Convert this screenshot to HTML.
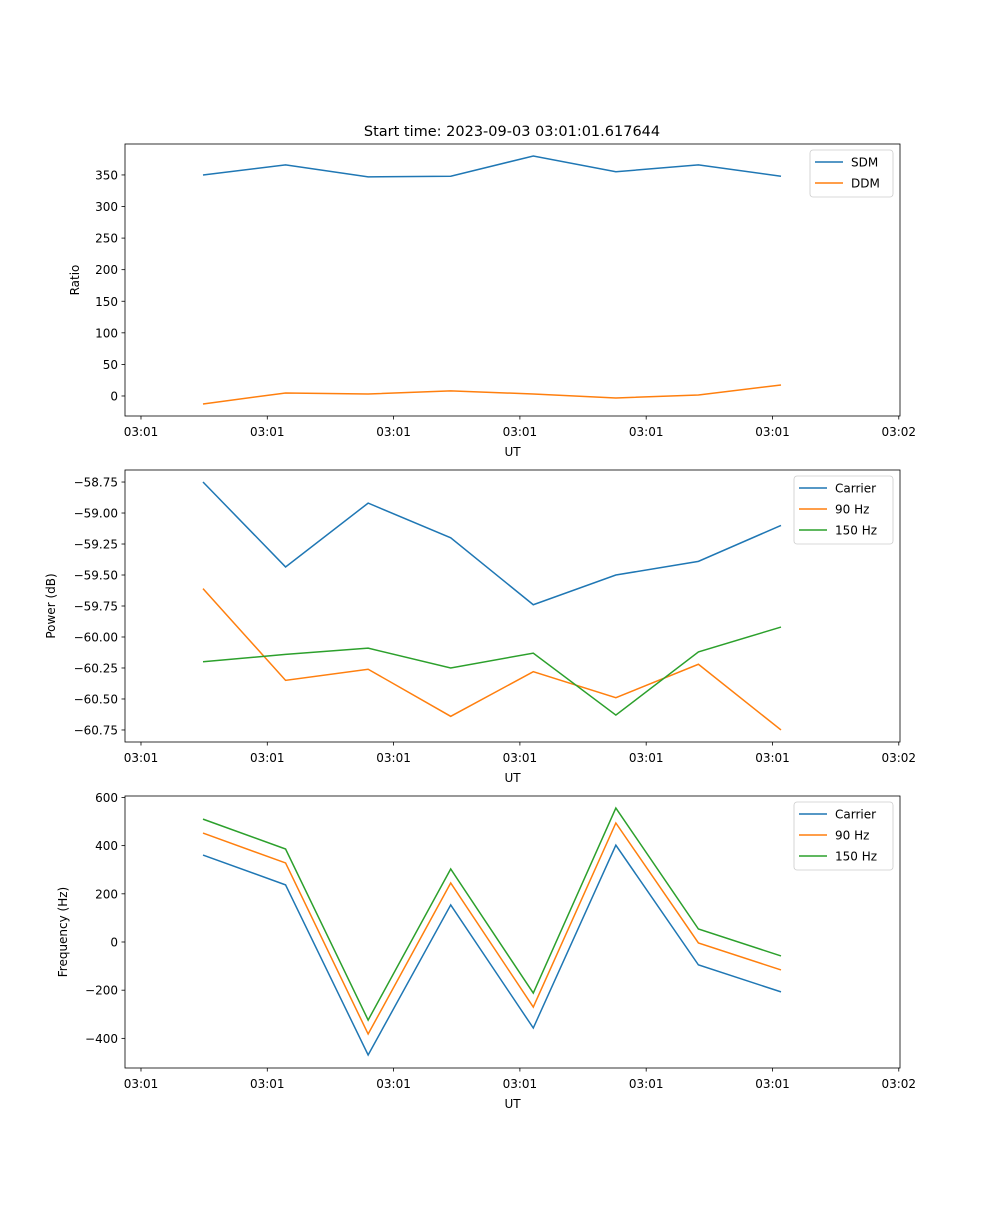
<!DOCTYPE html>
<html><head><meta charset="utf-8"><style>
body{margin:0;background:#fff;}
svg text{font-family:"DejaVu Sans","Liberation Sans",sans-serif;font-size:12px;fill:#000;}
</style></head><body>
<svg id="fig" width="1000" height="1200" xmlns="http://www.w3.org/2000/svg">
<rect width="1000" height="1200" fill="#fff"/>
<text x="512" y="136" text-anchor="middle" style="font-size:14.5px">Start time: 2023-09-03 03:01:01.617644</text>
</svg>
<script>
const pointIndex = [0,1,2,3,4,5,6,7];
const xTickLabels = ["03:01","03:01","03:01","03:01","03:01","03:01","03:02"];
const sdm = [350,366,347,348,380,355,366,348];
const ddm = [-12.7,4.8,3.2,8,3.2,-3.2,1.6,17.4];
const powCarrier = [-58.75,-59.435,-58.92,-59.20,-59.74,-59.50,-59.39,-59.10];
const pow90 = [-59.61,-60.35,-60.26,-60.64,-60.28,-60.49,-60.22,-60.75];
const pow150 = [-60.20,-60.14,-60.09,-60.25,-60.13,-60.63,-60.12,-59.92];
const freqCarrier = [361,237,-469,154,-357,402,-95,-207];
const freq90 = [452,328,-382,245,-270,494,-4,-116];
const freq150 = [510,386,-324,303,-212,556,54,-58];
const ratioTicks = [0,50,100,150,200,250,300,350];
const powerTicks = [-58.75,-59.00,-59.25,-59.50,-59.75,-60.00,-60.25,-60.50,-60.75];
const freqTicks = [-400,-200,0,200,400,600];

const NS="http://www.w3.org/2000/svg";
const svg=document.getElementById('fig');
function mk(tag,attrs,parent){const e=document.createElementNS(NS,tag);for(const k in attrs)e.setAttribute(k,attrs[k]);(parent||svg).appendChild(e);return e;}
const X0=125,X1=900;
const xs=v=>203+v*82.57;
const tickStart=-0.751, tickStep=1.5296;
const colors=["#1f77b4","#ff7f0e","#2ca02c"];
function fmt(v,dec){const s=Math.abs(v).toFixed(dec);return (v<0?"\u2212":"")+s;}
function panel(name,top,bottom,ymin,ymax,ticks,dec,series,labels,ylabel,legend){
  const g=mk('g',{},svg);
  
  
  const ys=v=>bottom-(v-ymin)/(ymax-ymin)*(bottom-top);
  series.forEach((s,i)=>{
    const p=mk('polyline',{points:s.map((v,j)=>xs(pointIndex[j])+','+ys(v)).join(' '),fill:'none',stroke:colors[i],'stroke-width':1.5},g);
    
    
  });
  mk('rect',{x:X0,y:top,width:X1-X0,height:bottom-top,fill:'none',stroke:'#000','stroke-width':0.8},g);
  xTickLabels.forEach((l,k)=>{
    const x=xs(tickStart+k*tickStep);
    mk('line',{x1:x,x2:x,y1:bottom,y2:bottom+3.5,stroke:'#000','stroke-width':0.8},g);
    const t=mk('text',{x:x,y:bottom+20,'text-anchor':'middle'},g);t.textContent=l;
    
    
  });
  const xl=mk('text',{x:(X0+X1)/2,y:bottom+40,'text-anchor':'middle'},g);xl.textContent='UT';
  
  
  ticks.forEach(v=>{
    const y=ys(v);
    mk('line',{x1:X0-3.5,x2:X0,y1:y,y2:y,stroke:'#000','stroke-width':0.8},g);
    const t=mk('text',{x:X0-7,y:y+4.5,'text-anchor':'end'},g);t.textContent=fmt(v,dec);
    
    
  });
  const yl=mk('text',{x:0,y:0,'text-anchor':'middle',transform:`translate(${legend.yx},${(top+bottom)/2}) rotate(-90)`},g);yl.textContent=ylabel;
  
  
  const lg=mk('g',{},g);
  
  
  mk('rect',{x:legend.x,y:top+6,width:X1-7-legend.x,height:labels.length*21+5,rx:3,fill:'#fff',stroke:'#ccc','stroke-width':0.8},lg);
  labels.forEach((l,i)=>{
    const y=top+18+i*21;
    mk('line',{x1:legend.x+5,x2:legend.x+33,y1:y,y2:y,stroke:colors[i],'stroke-width':1.5},lg);
    const t=mk('text',{x:legend.x+41,y:y+4.5},lg);t.textContent=l;
    
    
  });
}
panel('ratio',144,416,-31.7,399,ratioTicks,0,[sdm,ddm],['SDM','DDM'],'Ratio',{x:810,yx:79});
panel('power',470,742,-60.847,-58.653,powerTicks,2,[powCarrier,pow90,pow150],['Carrier','90 Hz','150 Hz'],'Power (dB)',{x:794,yx:55});
panel('frequency',796,1068,-523,606,freqTicks,0,[freqCarrier,freq90,freq150],['Carrier','90 Hz','150 Hz'],'Frequency (Hz)',{x:794,yx:67});
</script>
</body></html>
